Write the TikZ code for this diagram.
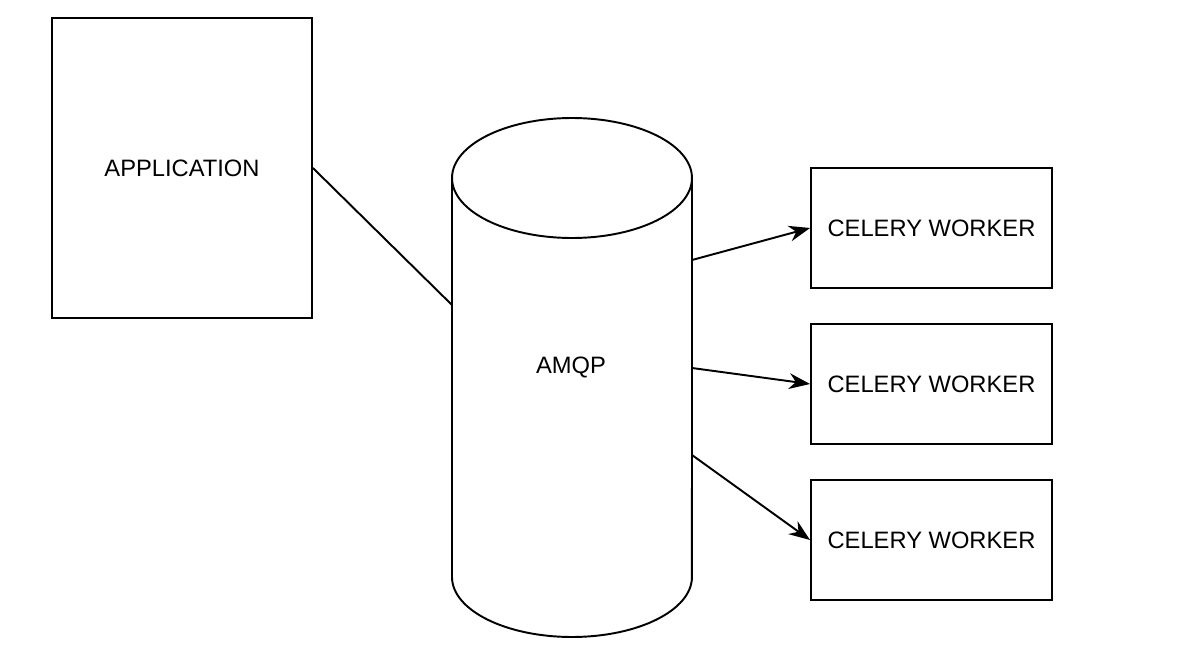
\documentclass[tikz,border=0pt]{standalone}
\usepackage{fontspec}
\setmainfont{Liberation Sans}
\usetikzlibrary{arrows.meta}

\begin{document}
\begin{tikzpicture}[x=0.02cm, y=-0.02cm, line width=1.1pt,
    font=\fontsize{13.5}{16}\selectfont,
    box/.style={draw, minimum width=#1, minimum height=2.4cm, inner sep=0pt}]
  \useasboundingbox (0,0) rectangle (1178,656);
  \node[box=5.2cm, minimum height=6cm] (app) at (182,168) {APPLICATION};
  % queue
  \draw (452,178) -- (452,577) arc (180:360:2.4cm and 1.2cm) -- (692,178);
  \draw (572,178) ellipse (2.4cm and 1.2cm);
  \node (amqp) at (571,367) {AMQP};
  \coordinate (in) at (452,305);
  \draw (app.east) -- (in);
  \foreach \i/\y/\s in {1/228/260, 2/384/368, 3/540/455} {
    \node[box=4.82cm] (worker\i) at (931.5,\y) {CELERY WORKER};
    \coordinate (out\i) at (692,\s);
    \draw[-{Stealth[length=12pt, width=9pt]}] (out\i) -- (worker\i.west);
  }
\end{tikzpicture}
\end{document}
